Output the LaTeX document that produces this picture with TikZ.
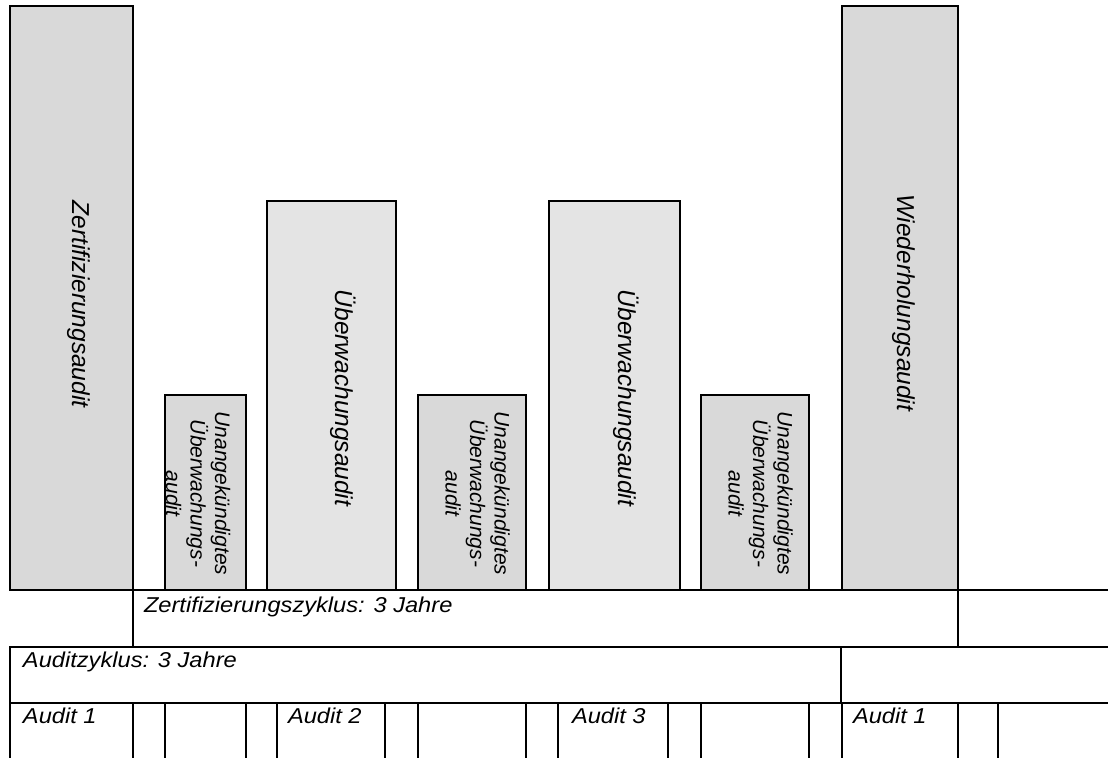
\documentclass[tikz,border=0pt]{standalone}
\usepackage{fontspec}
\setmainfont{Liberation Sans}
\newfontfamily\widefont[FakeStretch=1.1]{Liberation Sans}
\definecolor{barDark}{HTML}{D9D9D9}
\definecolor{barLight}{HTML}{E4E4E4}
\begin{document}
\begin{tikzpicture}[x=1pt,y=-1pt,line width=2pt,
  bar/.style={draw=black,line width=2pt,inner sep=0pt,outer sep=0pt,anchor=north west},
  biglabel/.style={rotate=-90,inner sep=0pt,anchor=base,font=\fontsize{24.5pt}{29pt}\selectfont\itshape},
  smalllabel/.style={rotate=-90,inner sep=0pt,anchor=center,align=center,font=\fontsize{21pt}{24.5pt}\selectfont\itshape},
  hlabel/.style={inner sep=0pt,anchor=base west,font=\widefont\fontsize{21.5pt}{26pt}\selectfont\itshape}
]
\useasboundingbox (0,0) rectangle (1108,758);

% bars
\node[bar,fill=barDark,minimum width=123pt,minimum height=584pt] (zb) at (10,6) {};
\node[bar,fill=barDark,minimum width=81pt,minimum height=195pt] (s1) at (165,395) {};
\node[bar,fill=barLight,minimum width=129pt,minimum height=389pt] (u1) at (267,201) {};
\node[bar,fill=barDark,minimum width=108pt,minimum height=195pt] (s2) at (418,395) {};
\node[bar,fill=barLight,minimum width=131pt,minimum height=389pt] (u2) at (549,201) {};
\node[bar,fill=barDark,minimum width=108pt,minimum height=195pt] (s3) at (701,395) {};
\node[bar,fill=barDark,minimum width=116pt,minimum height=584pt] (wb) at (842,6) {};

% bar labels
\node[biglabel] (zt) at (72,304) {Zertifizierungsaudit};
\node[biglabel] (u1t) at (335,398) {Überwachungsaudit};
\node[biglabel] (u2t) at (618,398) {Überwachungsaudit};
\node[biglabel] (wt) at (897,303) {Wiederholungsaudit};
\node[smalllabel] (s1t) at (198,493.5) {Unangekündigtes\\Überwachungs-\\audit};
\node[smalllabel] (s2t) at (477.5,493.5) {Unangekündigtes\\Überwachungs-\\audit};
\node[smalllabel] (s3t) at (760.5,493.5) {Unangekündigtes\\Überwachungs-\\audit};

% table lines
\draw (10,590) -- (1108,590);
\draw (133,590) -- (133,647);
\draw (958,590) -- (958,647);
\draw (1108,647) -- (10,647) -- (10,758);
\draw (841,647) -- (841,703);
\draw (10,703) -- (1108,703);
\foreach \xx in {133,165,246,277,385,418,526,558,668,701,809,842,958,998}
  \draw (\xx,703) -- (\xx,758);

% table texts
\node[hlabel] (zz) at (143,612) {Zertifizierungszyklus: 3 Jahre};
\node[hlabel] (az) at (22,667.5) {Auditzyklus: 3 Jahre};
\node[hlabel] (a1) at (22,723) {Audit 1};
\node[hlabel] (a2) at (287,723) {Audit 2};
\node[hlabel] (a3) at (571,723.5) {Audit 3};
\node[hlabel] (a4) at (852,723) {Audit 1};
\end{tikzpicture}
\end{document}
